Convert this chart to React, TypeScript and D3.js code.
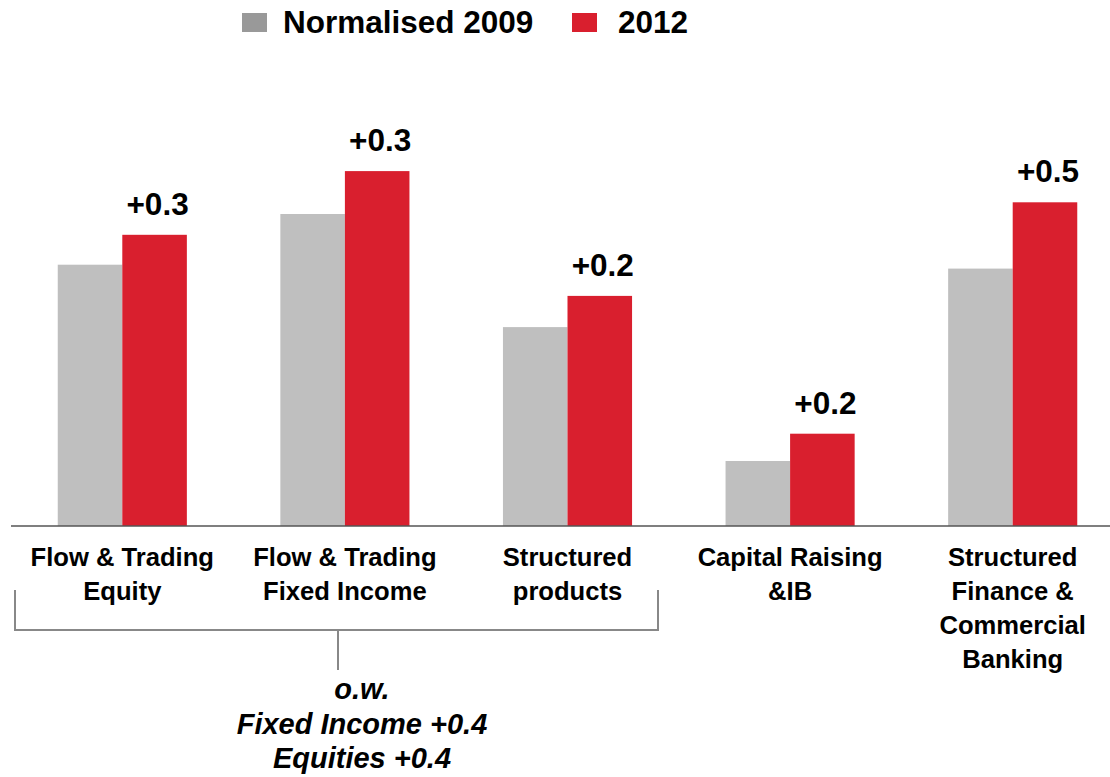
import React from "react";
import * as d3 from "d3";

const categories = [
  ["Flow & Trading", "Equity"],
  ["Flow & Trading", "Fixed Income"],
  ["Structured", "products"],
  ["Capital Raising", "&IB"],
  ["Structured", "Finance &", "Commercial", "Banking"],
];
const categoryKeys = ["FTE", "FTFI", "SP", "CR", "SFCB"];
const seriesNames = ["Normalised 2009", "2012"];
const values2009 = [2.01, 2.4, 1.53, 0.5, 1.98];
const values2012 = [2.24, 2.73, 1.77, 0.71, 2.49];
const deltaLabels = ["+0.3", "+0.3", "+0.2", "+0.2", "+0.5"];
const noteLines = ["o.w.", "Fixed Income +0.4", "Equities +0.4"];

const GREY = "#BFBFBF";
const GREY_LEGEND = "#999999";
const RED = "#D91F2E";
const FONT = "'Liberation Sans', Arial, Helvetica, sans-serif";

export default function App() {
  const W = 1110;
  const H = 777;
  const x = d3
    .scaleBand<string>()
    .domain(categoryKeys)
    .range([11, 1124])
    .paddingInner(0.42)
    .paddingOuter(0.21);
  const xs = d3
    .scaleBand<string>()
    .domain(["2009", "2012"])
    .range([0, x.bandwidth()])
    .padding(0);
  const y = d3.scaleLinear().domain([0, 3.5]).range([526, 71]);

  return (
    <svg
      width={W}
      height={H}
      style={{ position: "absolute", left: 0, top: 0, background: "#fff" }}
      fontFamily={FONT}
    >
      {/* legend */}
      <rect x={242} y={13} width={25} height={19} fill={GREY_LEGEND} />
      <text x={283} y={33} fontSize={31.5} fontWeight="bold" fill="#000">
        {seriesNames[0]}
      </text>
      <rect x={572} y={13} width={25} height={19} fill={RED} />
      <text x={618} y={33} fontSize={31.5} fontWeight="bold" fill="#000">
        {seriesNames[1]}
      </text>

      {/* bars */}
      {categoryKeys.map((k, i) => {
        const x0 = x(k)!;
        const xg = x0 + xs("2009")!;
        const xr = x0 + xs("2012")!;
        return (
          <g key={k}>
            <rect
              x={xg}
              y={y(values2009[i])}
              width={xs.bandwidth()}
              height={y(0) - y(values2009[i])}
              fill={GREY}
            />
            <rect
              x={xr}
              y={y(values2012[i])}
              width={xs.bandwidth()}
              height={y(0) - y(values2012[i])}
              fill={RED}
            />
            <text
              x={xr + xs.bandwidth() / 2 + 3}
              y={y(values2012[i]) - 20}
              textAnchor="middle"
              fontSize={31.5}
              fontWeight="bold"
              fill="#000"
            >
              {deltaLabels[i]}
            </text>
            <text
              x={x0 + x.bandwidth() / 2}
              textAnchor="middle"
              fontSize={25.6}
              fontWeight="bold"
              fill="#000"
            >
              {categories[i].map((line, j) => (
                <tspan key={j} x={x0 + x.bandwidth() / 2} y={566 + j * 34}>
                  {line}
                </tspan>
              ))}
            </text>
          </g>
        );
      })}

      {/* baseline */}
      <line x1={11} x2={1110} y1={y(0)} y2={y(0)} stroke="#555" strokeWidth={1.5} />

      {/* bracket */}
      <path
        d="M15,590 V630 H658 V590"
        fill="none"
        stroke="#888"
        strokeWidth={2}
      />
      <line x1={338} x2={338} y1={630} y2={670} stroke="#888" strokeWidth={2} />

      {/* note */}
      {noteLines.map((t, i) => (
        <text
          key={i}
          x={362}
          y={699 + i * 34.5}
          textAnchor="middle"
          fontSize={29}
          fontWeight="bold"
          fontStyle="italic"
          fill="#000"
        >
          {t}
        </text>
      ))}
    </svg>
  );
}
